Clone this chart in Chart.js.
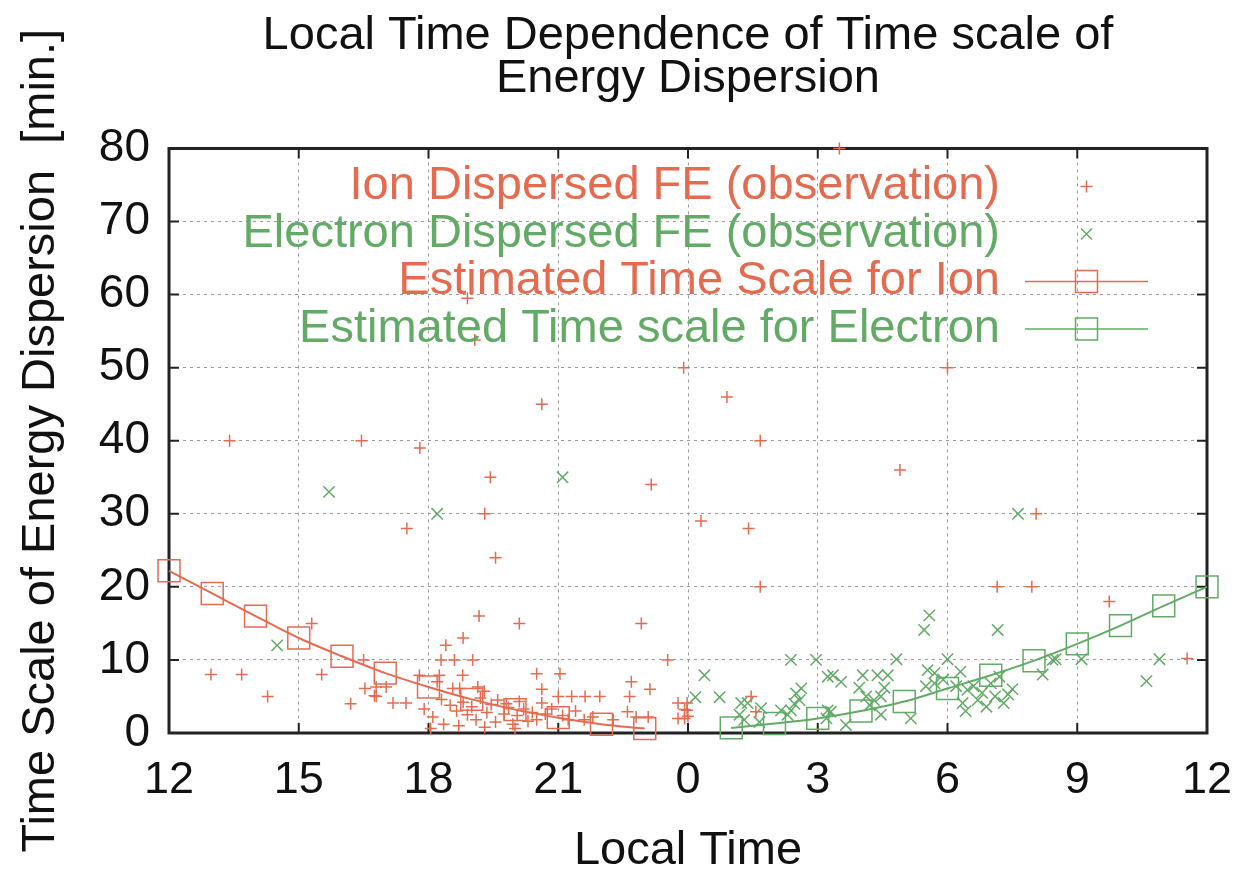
<!DOCTYPE html>
<html>
<head>
<meta charset="utf-8">
<script src="https://cdn.jsdelivr.net/npm/chart.js@4.4.1/dist/chart.umd.min.js"></script>
<style>
	html, body { margin: 0; padding: 0; background: #fff; }
	#wrap { width: 1245px; height: 875px; }
</style>
</head>
<body>
<div id="wrap"><canvas id="chart" width="1245" height="875"></canvas></div>
<script>
// local time in hours, 12 = noon, 24 = midnight, 36 = next noon
const ionTime = [
	13.4, 16.45, 17.8, 17.5, 18.9, 19.07, 20.62, 19.43, 19.3, 19.55, 23.15, 23.9, 24.9, 24.3, 25.4, 25.67, 25.67, 28.9, 30, 27.5,
	32.05, 31.15, 31.95, 33.74, 35.54,
	12.97, 13.68, 14.28, 15.3, 15.53, 16.5, 16.2, 16.53, 16.75, 16.79, 17.02, 16.79, 17.18, 17.48,
	17.79, 18.25, 18.79, 18.2, 18.56, 18.72, 19.14, 19.29,
	18.4, 18.8, 19.17, 20.1, 22.92, 18.29, 18.6, 19.02, 23.53,
	20.5, 21.04, 20.62, 22.69, 23.12, 21.0, 21.31, 21.62, 21.96, 22.65, 20.62,
	23.77, 23.92, 23.77, 23.92, 23.98, 23.98,
	22.6, 22.8, 23.08, 22.27, 20.5, 21.23, 21.6,
	18.3, 18.5, 18.65, 18.8, 18.9, 19.0, 19.1, 19.2, 19.35, 19.45, 19.55, 19.6, 19.75, 19.85, 19.95, 20.05, 20.2, 20.3, 20.4,
	18.1, 18.35, 18.7, 19.3, 19.8, 20.1, 18.05, 17.9, 20.7, 20.85, 21.1, 21.4, 21.8, 20.0,
	25.46, 25.57, 24.0
];
const ionScale = [
	40, 40, 39, 28, 59.5, 53.8, 45, 35, 30, 24, 34, 50, 46, 29, 28, 40, 20, 36, 50, 80,
	30, 20, 20, 18, 10.2,
	8, 8, 5, 15, 8, 10, 4, 6.1, 5.1, 6.3, 6.3, 5, 4.1, 4.1,
	7.9, 7.9, 7.9, 7, 6.1, 6.1, 6.3, 5.7,
	12, 13, 16, 15, 15, 10, 10, 10, 10,
	8.1, 8.1, 6, 7, 6, 5, 5, 5, 5, 5, 4.1,
	4.1, 3.2, 2.0, 2.0, 4.1, 3.1,
	2.9, 2.2, 2.2, 1.8, 1.8, 1.8, 1.8,
	4.6, 3.8, 3.0, 4.2, 2.5, 3.6, 1.8, 4.8, 2.8, 3.9, 1.5, 4.5, 2.6, 3.5, 1.2, 2.4, 3.3, 1.6, 2.8,
	2.2, 1.2, 1.0, 0.8, 4.0, 4.3, 0.6, 3.3, 2.6, 3.3, 2.4, 3.0, 2.2, 0.6,
	5, 2.9, 2.3
];

const elecTime = [
	14.5, 15.7, 18.2, 21.1,
	24.38, 24.17, 24.73, 26.38, 26.96, 25.23, 25.38, 25.19, 25.69, 25.3, 25.65, 26.15, 26.38, 26.5, 26.58, 26.62, 26.46, 26.3, 27.23, 27.23, 27.2,
	27.35, 27.54, 28.04, 28.38, 28.62, 27.96, 28.12, 28.46, 28.54, 28.46, 27.65, 27.3, 28.82, 29.46, 29.58, 29.15, 29.54, 29.7, 29.7, 30, 28.2, 28.3,
	29.5, 29.9, 30.3, 30.46, 30.35, 30.2, 30.42,
	30.6, 30.8, 30.7, 31.0, 31.1, 30.9, 31.3, 31.4, 31.2, 31.5,
	31.16, 32.2, 32.43, 32.5, 33.1, 34.9, 34.6, 31.63
];
const elecScale = [
	12, 33, 30, 35,
	7.9, 4.9, 4.9, 10, 10, 4.1, 4.1, 2.5, 3.4, 1.8, 1.5, 3.1, 3.1, 5.4, 4.5, 6.1, 4.0, 2.5, 7.7, 3.1, 2.0,
	7.9, 7.0, 7.9, 7.9, 7.9, 6.2, 5.0, 5.0, 6.2, 2.5, 1.1, 2.9, 10.1, 14.1, 16.1, 2.0, 8.6, 8.2, 6.8, 10.1, 3.8, 4.5,
	6.4, 7.3, 8.4, 5.9, 4.1, 6.4, 3.0,
	6.4, 5.5, 4.5, 6.8, 5.0, 3.6, 4.1, 5.3, 7.7, 6.0,
	14.1, 8.0, 10, 10.1, 10.1, 10.1, 7.1, 30
];

const estIonHours = [12, 13, 14, 15, 16, 17, 18, 19, 20, 21, 22, 23];
const estIon = [22.2, 19.1, 16.0, 13.0, 10.5, 8.2, 6.3, 4.6, 3.2, 2.1, 1.2, 0.6];
const estElecHours = [25, 26, 27, 28, 29, 30, 31, 32, 33, 34, 35, 36];
const estElec = [0.7, 1.3, 2.0, 3.0, 4.3, 6.1, 7.9, 9.9, 12.2, 14.7, 17.4, 20];

const xTickStep = 3;
const yTickStep = 10;

const ionColor = "#e46b50";
const elecColor = "#62aa66";
const fontName = "'Liberation Sans', Arial, sans-serif";

function toPoints(xs, ys) {
	return xs.map((x, i) => ({ x: x, y: ys[i] }));
}

// gnuplot style key: right aligned text, sample on its right
const keyEntries = [
	{ text: "Ion Dispersed FE (observation)", color: ionColor, style: "cross", line: false },
	{ text: "Electron Dispersed FE (observation)", color: elecColor, style: "crossRot", line: false },
	{ text: "Estimated Time Scale for Ion", color: ionColor, style: "rect", line: true },
	{ text: "Estimated Time scale for Electron", color: elecColor, style: "rect", line: true }
];

function drawMarker(ctx, style, x, y, color) {
	ctx.save();
	ctx.strokeStyle = color;
	ctx.lineWidth = 1.5;
	ctx.beginPath();
	if (style == "cross") {
		ctx.moveTo(x - 6, y); ctx.lineTo(x + 6, y);
		ctx.moveTo(x, y - 6); ctx.lineTo(x, y + 6);
	} else if (style == "crossRot") {
		ctx.moveTo(x - 5.5, y - 5.5); ctx.lineTo(x + 5.5, y + 5.5);
		ctx.moveTo(x - 5.5, y + 5.5); ctx.lineTo(x + 5.5, y - 5.5);
	} else {
		ctx.rect(x - 11, y - 11, 22, 22);
	}
	ctx.stroke();
	ctx.restore();
}

const framePlugin = {
	id: "frame",
	beforeDatasetsDraw(chart) {
		const ctx = chart.ctx;
		const a = chart.chartArea;
		const xs = chart.scales.x, ys = chart.scales.y;
		ctx.save();
		ctx.strokeStyle = "#222";
		ctx.lineWidth = 2;
		// inward ticks on all four sides
		ctx.beginPath();
		for (let v = xs.min; v <= xs.max; v += xTickStep) {
			const px = xs.getPixelForValue(v);
			ctx.moveTo(px, a.bottom); ctx.lineTo(px, a.bottom - 10);
			ctx.moveTo(px, a.top); ctx.lineTo(px, a.top + 10);
		}
		for (let v = ys.min; v <= ys.max; v += yTickStep) {
			const py = ys.getPixelForValue(v);
			ctx.moveTo(a.left, py); ctx.lineTo(a.left + 10, py);
			ctx.moveTo(a.right, py); ctx.lineTo(a.right - 10, py);
		}
		ctx.stroke();
		ctx.lineWidth = 3;
		ctx.strokeRect(a.left, a.top, a.right - a.left, a.bottom - a.top);
		ctx.restore();
	},
	afterDraw(chart) {
		const ctx = chart.ctx;
		const a = chart.chartArea;
		const textRight = a.right - 207;
		const sampleL = a.right - 182, sampleR = a.right - 59;
		ctx.save();
		ctx.font = "47px " + fontName;
		ctx.textAlign = "right";
		ctx.textBaseline = "middle";
		keyEntries.forEach((e, i) => {
			const y = a.top + 38 + i * 47.5;
			ctx.fillStyle = e.color;
			ctx.fillText(e.text, textRight, y);
			const mx = (sampleL + sampleR) / 2;
			if (e.line) {
				ctx.strokeStyle = e.color;
				ctx.lineWidth = 1.5;
				ctx.beginPath();
				ctx.moveTo(sampleL, y); ctx.lineTo(sampleR, y);
				ctx.stroke();
			}
			drawMarker(ctx, e.style, mx, y, e.color);
		});
		ctx.restore();
	}
};

new Chart(document.getElementById("chart"), {
	type: "scatter",
	data: {
		datasets: [
			{
				label: "Ion Dispersed FE (observation)",
				data: toPoints(ionTime, ionScale),
				pointStyle: "cross",
				pointRadius: 6,
				pointBorderWidth: 1.5,
				borderColor: ionColor,
				backgroundColor: ionColor,
				clip: false
			},
			{
				label: "Electron Dispersed FE (observation)",
				data: toPoints(elecTime, elecScale),
				pointStyle: "crossRot",
				pointRadius: 8,
				pointBorderWidth: 1.5,
				borderColor: elecColor,
				backgroundColor: elecColor,
				clip: false
			},
			{
				label: "Estimated Time Scale for Ion",
				data: toPoints(estIonHours, estIon),
				showLine: true,
				cubicInterpolationMode: "monotone",
				pointStyle: "rect",
				pointRadius: 15.5,
				pointBorderWidth: 1.5,
				borderWidth: 2,
				borderColor: ionColor,
				pointBackgroundColor: "rgba(0,0,0,0)",
				backgroundColor: "rgba(0,0,0,0)",
				clip: false
			},
			{
				label: "Estimated Time scale for Electron",
				data: toPoints(estElecHours, estElec),
				showLine: true,
				cubicInterpolationMode: "monotone",
				pointStyle: "rect",
				pointRadius: 15.5,
				pointBorderWidth: 1.5,
				borderWidth: 2,
				borderColor: elecColor,
				pointBackgroundColor: "rgba(0,0,0,0)",
				backgroundColor: "rgba(0,0,0,0)",
				clip: false
			}
		]
	},
	options: {
		responsive: false,
		animation: false,
		layout: { padding: { left: 0, right: 38, top: 0, bottom: 0 } },
		plugins: {
			legend: { display: false },
			tooltip: { enabled: false },
			title: {
				display: true,
				fullSize: false,
				text: ["Local Time Dependence of Time scale of", "Energy Dispersion"],
				color: "#111",
				font: { family: fontName, size: 47, weight: "normal", lineHeight: 0.92 },
				padding: { top: 14, bottom: 48 }
			}
		},
		scales: {
			x: {
				type: "linear",
				min: 12,
				max: 36,
				afterFit: (s) => { s.height = 142; s.paddingLeft = 0; s.paddingRight = 0; },
				ticks: {
					stepSize: xTickStep,
					padding: 21,
					color: "#111",
					font: { family: fontName, size: 45 },
					maxRotation: 0,
					callback: (v) => String(v % 24)
				},
				grid: { color: "#9a9a9a", lineWidth: 1, drawTicks: false },
				border: { display: false, dash: [3, 4] },
				title: {
					display: true,
					text: "Local Time",
					color: "#111",
					font: { family: fontName, size: 47, lineHeight: 1.0 },
					padding: { top: 0, bottom: 0 }
				}
			},
			y: {
				min: 0,
				max: 80,
				afterFit: (s) => { s.width = 169; s.paddingTop = 0; s.paddingBottom = 0; },
				ticks: {
					stepSize: yTickStep,
					padding: 19,
					color: "#111",
					font: { family: fontName, size: 46 }
				},
				grid: { color: "#9a9a9a", lineWidth: 1, drawTicks: false },
				border: { display: false, dash: [3, 4] },
				title: {
					display: true,
					text: "Time Scale of Energy Dispersion  [min.]",
					color: "#111",
					font: { family: fontName, size: 47 },
					padding: { top: 13, bottom: 0 }
				}
			}
		}
	},
	plugins: [framePlugin]
});
</script>
</body>
</html>
